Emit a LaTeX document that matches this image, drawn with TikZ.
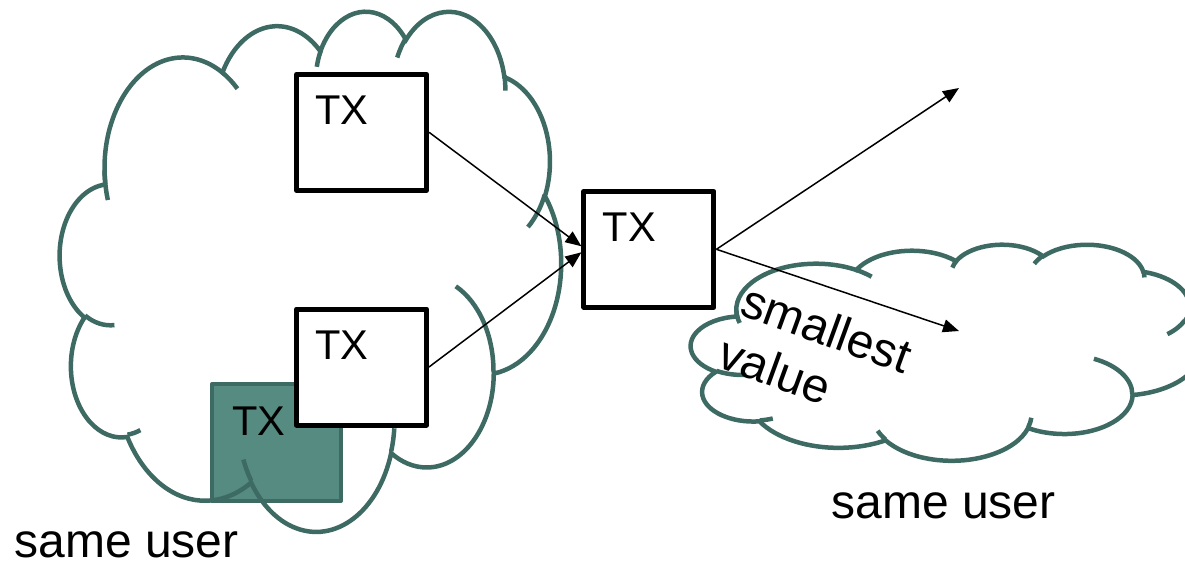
\documentclass[tikz,border=0pt]{standalone}
\usepackage{fontspec}
\setmainfont{Liberation Sans}
\usetikzlibrary{arrows.meta}

\definecolor{cloudc}{RGB}{62,106,100}
\definecolor{fillc}{RGB}{86,139,130}

\makeatletter
% wR hR stAng swAng (visual angles, deg) -> parametric start and delta
\newcommand\mkarc[5]{%
  \pgfmathsetmacro\mk@a{atan2((#2)*sin(#4),(#3)*cos(#4))}%
  \pgfmathsetmacro\mk@b{atan2((#2)*sin((#4)+(#5)),(#3)*cos((#4)+(#5)))}%
  \pgfmathsetmacro\mk@d{mod(\mk@b-\mk@a+720,360)}%
  \expandafter\xdef\csname cS#1\endcsname{\mk@a}%
  \expandafter\xdef\csname cD#1\endcsname{\mk@d}}
\makeatother

\mkarc{A}{6.753}{9.190}{-190.4875}{123.7805}
\mkarc{B}{5.333}{7.267}{-144.1024}{89.9452}
\mkarc{C}{4.365}{5.945}{-145.8079}{99.7230}
\mkarc{D}{4.857}{6.595}{-130.9861}{117.2417}
\mkarc{E}{5.333}{7.273}{-78.7089}{109.0269}
\mkarc{F}{6.775}{9.220}{-46.2673}{130.2690}
\mkarc{G}{5.785}{7.867}{0.6250}{114.0333}
\mkarc{H}{6.752}{9.215}{22.4516}{115.1726}
\mkarc{I}{7.720}{10.543}{66.2426}{75.7110}
\mkarc{J}{4.360}{5.918}{-274.9421}{146.7356}
\mkarc{K}{4.345}{5.945}{-246.8285}{152.5189}
\mkarc{a}{4.345}{5.945}{86.7420}{26.4295}
\mkarc{b}{4.360}{5.918}{73.6105}{11.4475}
\mkarc{c}{6.752}{9.215}{137.6242}{14.0811}
\mkarc{d}{6.752}{9.215}{6.4533}{15.9984}
\mkarc{e}{5.785}{7.867}{-70.2924}{70.9174}
\mkarc{f}{5.333}{7.273}{30.3180}{27.7515}
\mkarc{g}{4.857}{6.595}{-13.7443}{14.8589}
\mkarc{h}{4.857}{6.595}{-149.1815}{18.1954}
\mkarc{i}{4.365}{5.945}{-163.4943}{17.6864}
\mkarc{j}{6.753}{9.190}{-66.7070}{12.3194}
\mkarc{k}{6.753}{9.190}{157.8762}{20.7343}

\newcommand\cloudpath{%
  \draw[cloudline] (3.900,14.370)
    arc[start angle=\cSA, delta angle=\cDA, x radius=6.753, y radius=9.190]
    arc[start angle=\cSB, delta angle=\cDB, x radius=5.333, y radius=7.267]
    arc[start angle=\cSC, delta angle=\cDC, x radius=4.365, y radius=5.945]
    arc[start angle=\cSD, delta angle=\cDD, x radius=4.857, y radius=6.595]
    arc[start angle=\cSE, delta angle=\cDE, x radius=5.333, y radius=7.273]
    arc[start angle=\cSF, delta angle=\cDF, x radius=6.775, y radius=9.220]
    arc[start angle=\cSG, delta angle=\cDG, x radius=5.785, y radius=7.867]
    arc[start angle=\cSH, delta angle=\cDH, x radius=6.752, y radius=9.215]
    arc[start angle=\cSI, delta angle=\cDI, x radius=7.720, y radius=10.543]
    arc[start angle=\cSJ, delta angle=\cDJ, x radius=4.360, y radius=5.918]
    arc[start angle=\cSK, delta angle=\cDK, x radius=4.345, y radius=5.945]
    -- cycle;
  \draw[cloudline] (4.693,26.177) arc[start angle=\cSa, delta angle=\cDa, x radius=4.345, y radius=5.945];
  \draw[cloudline] (6.928,34.899) arc[start angle=\cSb, delta angle=\cDb, x radius=4.360, y radius=5.918];
  \draw[cloudline] (16.478,39.090) arc[start angle=\cSc, delta angle=\cDc, x radius=6.752, y radius=9.215];
  \draw[cloudline] (28.827,34.751) arc[start angle=\cSd, delta angle=\cDd, x radius=6.752, y radius=9.215];
  \draw[cloudline] (34.129,22.954) arc[start angle=\cSe, delta angle=\cDe, x radius=5.785, y radius=7.867];
  \draw[cloudline] (41.798,15.354) arc[start angle=\cSf, delta angle=\cDf, x radius=5.333, y radius=7.273];
  \draw[cloudline] (38.324,5.426) arc[start angle=\cSg, delta angle=\cDg, x radius=4.857, y radius=6.595];
  \draw[cloudline] (29.078,3.952) arc[start angle=\cSh, delta angle=\cDh, x radius=4.857, y radius=6.595];
  \draw[cloudline] (22.141,4.720) arc[start angle=\cSi, delta angle=\cDi, x radius=4.365, y radius=5.945];
  \draw[cloudline] (14.000,5.192) arc[start angle=\cSj, delta angle=\cDj, x radius=6.753, y radius=9.190];
  \draw[cloudline] (4.127,15.789) arc[start angle=\cSk, delta angle=\cDk, x radius=6.753, y radius=9.190];
}

\begin{document}
\begin{tikzpicture}[
  x=0.5pt, y=-0.5pt,
  cloudline/.style={draw=cloudc, line width=2.25pt},
  txbox/.style={draw=black, fill=white, line width=2.5pt, line join=round,
    minimum width=65pt, minimum height=58pt, inner sep=0pt},
  txfill/.style={draw=cloudc, fill=fillc, line width=2pt, line join=round,
    minimum width=64.5pt, minimum height=58.5pt, inner sep=0pt},
  txlbl/.style={anchor=base west, inner sep=0pt, font=\fontsize{20.8pt}{25pt}\selectfont},
  biglbl/.style={anchor=base west, inner sep=0pt, font=\fontsize{24pt}{28pt}\selectfont},
  arr/.style={draw=black, line width=0.75pt, -{Triangle[length=8pt,width=6.5pt]}}
]
\useasboundingbox (0,0) rectangle (1185,563);
\clip (0,0) rectangle (1185,563);

% filled TX box (behind the cloud)
\node[txfill] (tf) at (276.5,442.5) {};
\node[txlbl] (tfl) at ([xshift=11pt,yshift=-26.5pt]tf.north west) {TX};

% left cloud
\begin{scope}[shift={(60,10)}, x=5.7986pt, y=-6.0185pt]
  \cloudpath
\end{scope}

% right cloud
\begin{scope}[shift={(691,244)}, x=5.9028pt, y=-2.5pt]
  \cloudpath
\end{scope}

% white TX boxes
\node[txbox] (t1) at (361.6,132.3) {};
\node[txlbl] (t1l) at ([xshift=10.5pt,yshift=-26.5pt]t1.north west) {TX};
\node[txbox] (t2) at (361.5,367) {};
\node[txlbl] (t2l) at ([xshift=10.5pt,yshift=-26.5pt]t2.north west) {TX};
\node[txbox] (mid) at (648.9,249.3) {};
\node[txlbl] (midl) at ([xshift=10.5pt,yshift=-26.5pt]mid.north west) {TX};

% connectors
\coordinate (o1) at (959,88);
\coordinate (o2) at (959,331);
\draw[arr] (t1.east) -- ([yshift=1.5pt]mid.west);
\draw[arr] (t2.east) -- ([yshift=-1.5pt]mid.west);
\draw[arr] (mid.east) -- (o1);
\draw[arr] (mid.east) -- (o2);

% texts
\node[biglbl] (su1) at (14,557) {same user};
\node[biglbl] (su2) at (831,518) {same user};
\node[biglbl, rotate=-20] (sv1) at (738,314) {smallest};
\node[biglbl, rotate=-20] (sv2) at (715,366) {value};
\end{tikzpicture}
\end{document}
